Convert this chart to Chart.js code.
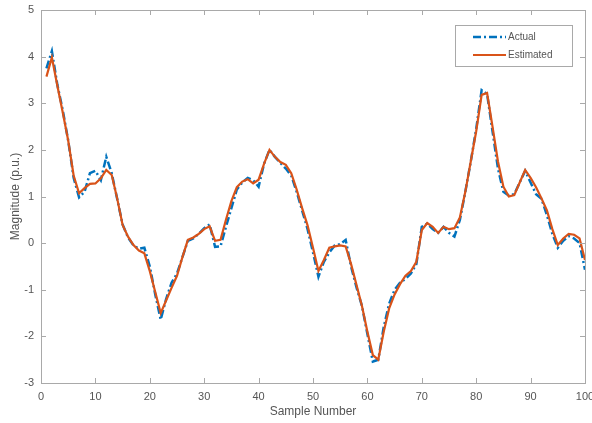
<!DOCTYPE html>
<html>
<head>
<meta charset="utf-8">
<script src="https://cdn.jsdelivr.net/npm/chart.js@4/dist/chart.umd.min.js"></script>
<style>
html, body { margin: 0; padding: 0; background: #fff; }
#wrap { width: 592px; height: 423px; position: relative; }
</style>
</head>
<body>
<div id="wrap"><canvas id="grafico"></canvas></div>
<script>
// datos
const muestras = [1,2,3,4,5,6,7,8,9,10,11,12,13,14,15,16,17,18,19,20,
  21,22,23,24,25,26,27,28,29,30,31,32,33,34,35,36,37,38,39,40,
  41,42,43,44,45,46,47,48,49,50,51,52,53,54,55,56,57,58,59,60,
  61,62,63,64,65,66,67,68,69,70,71,72,73,74,75,76,77,78,79,80,
  81,82,83,84,85,86,87,88,89,90,91,92,93,94,95,96,97,98,99,100];

const actual = [3.75,4.12,3.4,2.85,2.2,1.4,0.98,1.1,1.5,1.55,
  1.35,1.85,1.5,0.95,0.4,0.12,-0.05,-0.12,-0.1,-0.5,
  -1.1,-1.64,-1.2,-0.85,-0.65,-0.3,0.05,0.1,0.2,0.32,
  0.4,-0.08,-0.07,0.35,0.75,1.15,1.3,1.4,1.35,1.21,
  1.7,2.0,1.85,1.72,1.6,1.45,1.1,0.7,0.3,-0.2,
  -0.72,-0.4,-0.2,-0.05,-0.02,0.07,-0.5,-0.95,-1.35,-1.95,
  -2.54,-2.5,-1.8,-1.3,-1.0,-0.85,-0.77,-0.65,-0.45,0.35,
  0.42,0.3,0.22,0.35,0.22,0.14,0.5,1.1,1.75,2.45,
  3.28,3.2,2.4,1.6,1.1,1.02,1.05,1.3,1.55,1.3,
  1.05,0.95,0.6,0.2,-0.1,0.05,0.15,0.1,0.0,-0.57];

const estimado = [3.57,3.98,3.38,2.8,2.2,1.45,1.07,1.18,1.27,1.28,
  1.39,1.57,1.46,0.96,0.39,0.14,-0.04,-0.16,-0.22,-0.6,
  -1.05,-1.5,-1.23,-0.96,-0.7,-0.3,0.07,0.12,0.2,0.3,
  0.36,0.05,0.07,0.5,0.9,1.2,1.32,1.37,1.28,1.36,
  1.7,2.0,1.85,1.74,1.68,1.5,1.15,0.75,0.38,-0.1,
  -0.6,-0.36,-0.1,-0.07,-0.05,-0.07,-0.45,-0.9,-1.35,-1.9,
  -2.4,-2.5,-1.9,-1.4,-1.1,-0.88,-0.7,-0.6,-0.4,0.28,
  0.43,0.35,0.22,0.35,0.3,0.32,0.55,1.1,1.75,2.4,
  3.18,3.22,2.5,1.75,1.21,1.0,1.03,1.3,1.57,1.4,
  1.2,0.96,0.7,0.3,-0.04,0.1,0.2,0.18,0.1,-0.36];

const ticksX = [0,10,20,30,40,50,60,70,80,90,100];
const ticksY = [-3,-2,-1,0,1,2,3,4,5];

const colorEjes = '#a9a9a9';
const colorTexto = '#555555';
const fuente = "'Liberation Sans', Arial, sans-serif";

// quita el relleno automatico que Chart.js reserva para las etiquetas extremas
const sinRelleno = s => {
  s.paddingLeft = 0; s.paddingRight = 0; s.paddingTop = 0; s.paddingBottom = 0;
};

// caja, marcas hacia dentro y leyenda dentro del area
const marcoEjes = {
  id: 'marcoEjes',
  afterDraw(chart) {
    const { ctx, chartArea: a, scales: { x, y } } = chart;
    ctx.save();
    ctx.strokeStyle = colorEjes;
    ctx.lineWidth = 1;
    ctx.strokeRect(Math.round(a.left) + 0.5, Math.round(a.top) + 0.5,
      Math.round(a.right - a.left), Math.round(a.bottom - a.top));
    ctx.beginPath();
    ticksX.forEach(v => {
      const px = Math.round(x.getPixelForValue(v)) + 0.5;
      ctx.moveTo(px, a.bottom); ctx.lineTo(px, a.bottom - 5);
      ctx.moveTo(px, a.top); ctx.lineTo(px, a.top + 5);
    });
    ticksY.forEach(v => {
      const py = Math.round(y.getPixelForValue(v)) + 0.5;
      ctx.moveTo(a.left, py); ctx.lineTo(a.left + 5, py);
      ctx.moveTo(a.right, py); ctx.lineTo(a.right - 5, py);
    });
    ctx.stroke();

    // leyenda
    const lx = 455, ly = 25, lw = 117, lh = 41;
    ctx.fillStyle = '#fff';
    ctx.fillRect(lx, ly, lw, lh);
    ctx.strokeStyle = colorEjes;
    ctx.strokeRect(lx + 0.5, ly + 0.5, lw, lh);
    ctx.font = '10px ' + fuente;
    ctx.textBaseline = 'middle';
    ctx.fillStyle = colorTexto;
    chart.data.datasets.forEach((ds, i) => {
      const yy = ly + 12 + i * 18;
      ctx.beginPath();
      ctx.strokeStyle = ds.borderColor;
      ctx.lineWidth = ds.borderWidth;
      ctx.setLineDash(ds.borderDash || []);
      ctx.moveTo(473, yy); ctx.lineTo(506, yy);
      ctx.stroke();
      ctx.setLineDash([]);
      ctx.fillText(ds.label, 508, yy);
    });
    ctx.restore();
  }
};

const ctx = document.getElementById('grafico');
new Chart(ctx, {
  type: 'line',
  data: {
    datasets: [{
      label: 'Actual',
      data: muestras.map((m, i) => ({ x: m, y: actual[i] })),
      borderColor: '#0072BD',
      borderWidth: 2.5,
      borderDash: [8, 3, 2, 3],
      pointRadius: 0,
      tension: 0,
      order: 2
    }, {
      label: 'Estimated',
      data: muestras.map((m, i) => ({ x: m, y: estimado[i] })),
      borderColor: '#D95319',
      borderWidth: 2.2,
      pointRadius: 0,
      tension: 0,
      order: 1
    }]
  },
  options: {
    responsive: true,
    maintainAspectRatio: false,
    animation: false,
    layout: { autoPadding: false, padding: { left: 0, top: 10, right: 7, bottom: 0 } },
    plugins: { legend: { display: false }, tooltip: { enabled: false } },
    scales: {
      x: {
        type: 'linear', min: 0, max: 100,
        afterBuildTicks: s => { s.ticks = ticksX.map(v => ({ value: v })); },
        afterFit: s => { s.height = 40; sinRelleno(s); },
        grid: { display: false, drawTicks: false, tickLength: 0 },
        border: { display: false },
        ticks: { color: colorTexto, font: { family: fuente, size: 11 }, padding: 7, maxRotation: 0 },
        title: { display: true, text: 'Sample Number', color: colorTexto,
          font: { family: fuente, size: 12 }, padding: { top: 0, bottom: 4 } }
      },
      y: {
        type: 'linear', min: -3, max: 5,
        afterBuildTicks: s => { s.ticks = ticksY.map(v => ({ value: v })); },
        afterFit: s => { s.width = 41; sinRelleno(s); },
        grid: { display: false, drawTicks: false, tickLength: 0 },
        border: { display: false },
        ticks: { color: colorTexto, font: { family: fuente, size: 11 }, padding: 7 },
        title: { display: true, text: 'Magnitude (p.u.)', color: colorTexto,
          font: { family: fuente, size: 12 }, padding: { top: 8, bottom: 0 } }
      }
    }
  },
  plugins: [marcoEjes]
});
</script>
</body>
</html>
